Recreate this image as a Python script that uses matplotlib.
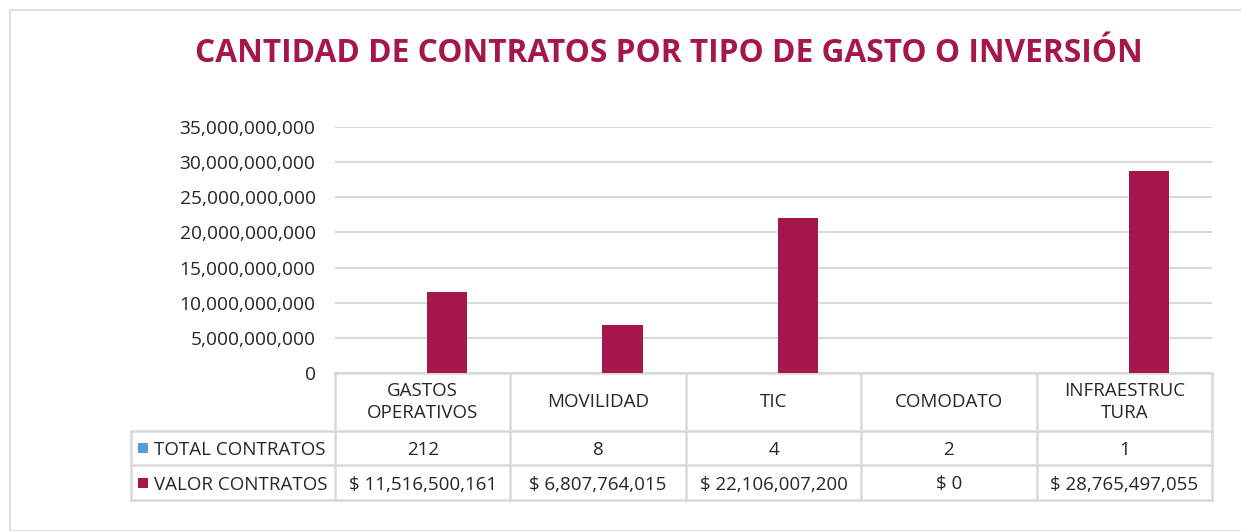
import matplotlib
matplotlib.use("Agg")
import matplotlib.pyplot as plt
import matplotlib.transforms as mtransforms
from matplotlib.patches import Rectangle

categorias = ["GASTOS\nOPERATIVOS", "MOVILIDAD", "TIC", "COMODATO", "INFRAESTRUC\nTURA"]
total_contratos = [212, 8, 4, 2, 1]
valor_contratos = [11516500161, 6807764015, 22106007200, 0, 28765497055]
series = ["TOTAL CONTRATOS", "VALOR CONTRATOS"]
yticks = [0, 5e9, 10e9, 15e9, 20e9, 25e9, 30e9, 35e9]

azul = "#5B9BD5"
rojo = "#A5174A"
gris = "#D9D9D9"
texto = "#262626"

plt.rcParams['font.family'] = ['Open Sans', 'DejaVu Sans']

W, H = 1241, 531
fig = plt.figure(figsize=(W / 100, H / 100), dpi=100)

# marco exterior
fig.patches.append(Rectangle((10 / W, 0), 1.1, 1 - 10 / H, transform=fig.transFigure,
                             fill=False, edgecolor=gris, linewidth=1.2))

ax = fig.add_axes([335 / W, 1 - 373 / H, (1212 - 335) / W, (373 - 127) / H])
x = list(range(len(categorias)))
ancho = 0.23
ax.bar([i - 0.14 for i in x], total_contratos, width=ancho, color=azul, zorder=3)
ax.bar([i + 0.14 for i in x], valor_contratos, width=ancho, color=rojo, zorder=3)

ax.set_xlim(-0.5, len(categorias) - 0.5)
ax.set_ylim(0, 35e9)
ax.set_yticks(yticks)
ax.set_yticklabels([f"{int(v):,}" for v in yticks], fontsize=13.8, color=texto)
ax.tick_params(axis='y', length=0, pad=14)
ax.set_xticks([])
ax.grid(axis='y', color=gris, linewidth=1.5, zorder=0)
for s in ["top", "right", "left", "bottom"]:
    ax.spines[s].set_visible(False)

fig.text(669 / W, 1 - 54 / H, "CANTIDAD DE CONTRATOS POR TIPO DE GASTO O INVERSIÓN",
         ha='center', va='center', fontsize=22.8, fontweight='bold', color=rojo)

# tabla de datos
tr = mtransforms.blended_transform_factory(ax.transData, ax.transAxes)
px = 246.0
y0, y1, y2, y3 = 0, -58 / px, -92 / px, -127 / px
xl = -0.5 - 204 / 175.4
xr = len(categorias) - 0.5
lw = 1.8
fs = 13.5
ax.plot([-0.5, xr], [y0, y0], color=gris, lw=lw, transform=tr, clip_on=False)
for yy in (y1, y2, y3):
    ax.plot([xl, xr], [yy, yy], color=gris, lw=lw, transform=tr, clip_on=False)
ax.plot([xl, xl], [y1, y3], color=gris, lw=lw, transform=tr, clip_on=False)
for b in [i - 0.5 for i in range(len(categorias) + 1)]:
    ax.plot([b, b], [y0, y3], color=gris, lw=lw, transform=tr, clip_on=False)

for i, c in enumerate(categorias):
    ax.text(i, (y0 + y1) / 2, c, ha='center', va='center', fontsize=fs, color=texto,
            transform=tr, linespacing=1.35)
    ax.text(i, (y1 + y2) / 2, str(total_contratos[i]), ha='center', va='center_baseline',
            fontsize=fs, color=texto, transform=tr)
    ax.text(i, (y2 + y3) / 2, f"$ {valor_contratos[i]:,}", ha='center', va='center_baseline',
            fontsize=fs, color=texto, transform=tr)

for nombre, col, (ya, yb) in zip(series, [azul, rojo], [(y1, y2), (y2, y3)]):
    ym = (ya + yb) / 2
    ax.plot([xl + 0.068], [ym], marker='s', markersize=7.5, markeredgewidth=0,
            color=col, transform=tr, clip_on=False)
    ax.text(xl + 0.13, ym, nombre, ha='left', va='center_baseline', fontsize=fs, color=texto,
            transform=tr)

fig.savefig("out.png", dpi=100)
